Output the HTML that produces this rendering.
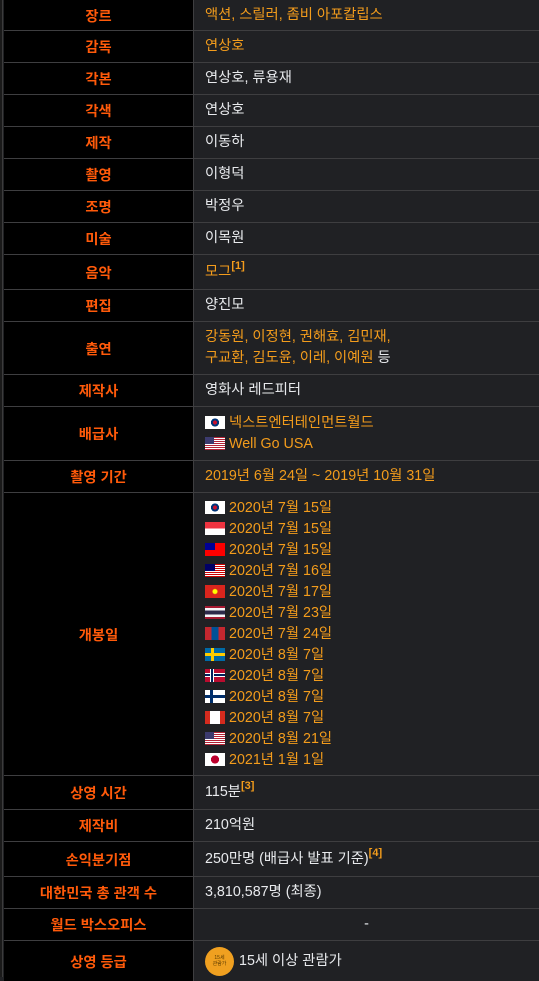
<!DOCTYPE html>
<html><head><meta charset="utf-8">
<style>
*{margin:0;padding:0;box-sizing:border-box}
body{width:539px;height:977px;background:#202124;position:relative;overflow:hidden;font-family:"Liberation Sans","Noto Sans CJK KR","NanumGothic",sans-serif;font-size:14.3px}
#lb{position:absolute;left:0;top:0;width:3px;height:977px;background:#1a1a1a;border-right:1px solid #3c3c3c}
.row{position:absolute;left:4px;width:535px;border-bottom:1px solid #3e3e40}
.h{position:absolute;left:0;top:0;bottom:0;width:190px;background:#000;border-right:1px solid #3e3e40;color:#ff5a0a;font-weight:bold;display:flex;align-items:center;justify-content:center}
.v{position:absolute;left:201px;top:0;bottom:0;right:0;display:flex;flex-direction:column;justify-content:center;color:#e8eaed;line-height:21px}
.o{color:#f39c1c}
sup{font-size:11px;font-weight:bold;color:#f39c1c;vertical-align:top;line-height:10px;position:relative;top:-1px}
.f{display:inline-block;width:20px;height:13px;vertical-align:-2px;margin-right:4px}
.d{display:block}
</style></head><body>
<div id="lb"></div>

<div class="row" style="top:0;height:31px"><div class="h">장르</div><div class="v o">액션, 스릴러, 좀비 아포칼립스</div></div>
<div class="row" style="top:31px;height:32px"><div class="h">감독</div><div class="v o">연상호</div></div>
<div class="row" style="top:63px;height:32px"><div class="h">각본</div><div class="v">연상호, 류용재</div></div>
<div class="row" style="top:95px;height:32px"><div class="h">각색</div><div class="v">연상호</div></div>
<div class="row" style="top:127px;height:32px"><div class="h">제작</div><div class="v">이동하</div></div>
<div class="row" style="top:159px;height:32px"><div class="h">촬영</div><div class="v">이형덕</div></div>
<div class="row" style="top:191px;height:32px"><div class="h">조명</div><div class="v">박정우</div></div>
<div class="row" style="top:223px;height:32px"><div class="h">미술</div><div class="v">이목원</div></div>
<div class="row" style="top:255px;height:35px"><div class="h">음악</div><div class="v"><span><span class="o">모그</span><sup>[1]</sup></span></div></div>
<div class="row" style="top:290px;height:32px"><div class="h">편집</div><div class="v">양진모</div></div>
<div class="row" style="top:322px;height:53px"><div class="h">출연</div><div class="v"><span class="o d">강동원, 이정현, 권해효, 김민재,</span><span class="d"><span class="o">구교환, 김도윤, 이레, 이예원</span> 등</span></div></div>
<div class="row" style="top:375px;height:32px"><div class="h">제작사</div><div class="v">영화사 레드피터</div></div>
<div class="row" style="top:407px;height:54px"><div class="h">배급사</div><div class="v o">
<span class="d"><i class="f" style="background:radial-gradient(circle,#c8102e 0 2px,#003478 2px 4px,#fff 4px)"></i>넥스트엔터테인먼트월드</span>
<span class="d"><i class="f" style="background:linear-gradient(#3c3b6e,#3c3b6e) 0 0/9px 7px no-repeat,repeating-linear-gradient(#b22234 0 1px,#fff 1px 2px)"></i>Well Go USA</span></div></div>
<div class="row" style="top:461px;height:32px"><div class="h">촬영 기간</div><div class="v o">2019년 6월 24일 ~ 2019년 10월 31일</div></div>
<div class="row" style="top:493px;height:283px"><div class="h">개봉일</div><div class="v o">
<span class="d"><i class="f" style="background:radial-gradient(circle,#c8102e 0 2px,#003478 2px 4px,#fff 4px)"></i>2020년 7월 15일</span>
<span class="d"><i class="f" style="background:linear-gradient(#ef3340 50%,#fff 50%)"></i>2020년 7월 15일</span>
<span class="d"><i class="f" style="background:linear-gradient(#000095,#000095) 0 0/10px 7px no-repeat,#fe0000"></i>2020년 7월 15일</span>
<span class="d"><i class="f" style="background:linear-gradient(#010066,#010066) 0 0/10px 7px no-repeat,repeating-linear-gradient(#cc0001 0 1px,#fff 1px 2px)"></i>2020년 7월 16일</span>
<span class="d"><i class="f" style="background:radial-gradient(circle,#ff0 0 2px,#da251d 3px)"></i>2020년 7월 17일</span>
<span class="d"><i class="f" style="background:linear-gradient(#a51931 15%,#f4f5f8 15% 33%,#2d2a4a 33% 67%,#f4f5f8 67% 85%,#a51931 85%)"></i>2020년 7월 23일</span>
<span class="d"><i class="f" style="background:linear-gradient(90deg,#c4272f 33%,#015197 33% 67%,#c4272f 67%)"></i>2020년 7월 24일</span>
<span class="d"><i class="f" style="background:linear-gradient(90deg,transparent 6px,#fecc00 6px 9px,transparent 9px),linear-gradient(transparent 5px,#fecc00 5px 8px,transparent 8px),#006aa7"></i>2020년 8월 7일</span>
<span class="d"><i class="f" style="background:linear-gradient(90deg,transparent 5px,#fff 5px 6px,#00205b 6px 8px,#fff 8px 9px,transparent 9px),linear-gradient(transparent 4px,#fff 4px 5px,#00205b 5px 7px,#fff 7px 8px,transparent 8px),#ba0c2f"></i>2020년 8월 7일</span>
<span class="d"><i class="f" style="background:linear-gradient(90deg,transparent 5px,#002f6c 5px 8px,transparent 8px),linear-gradient(transparent 5px,#002f6c 5px 8px,transparent 8px),#fff"></i>2020년 8월 7일</span>
<span class="d"><i class="f" style="background:linear-gradient(90deg,#d52b1e 5px,#fff 5px 15px,#d52b1e 15px)"></i>2020년 8월 7일</span>
<span class="d"><i class="f" style="background:linear-gradient(#3c3b6e,#3c3b6e) 0 0/9px 7px no-repeat,repeating-linear-gradient(#b22234 0 1px,#fff 1px 2px)"></i>2020년 8월 21일</span>
<span class="d"><i class="f" style="background:radial-gradient(circle,#bc002d 0 4px,#fff 4px)"></i>2021년 1월 1일</span>
</div></div>
<div class="row" style="top:776px;height:34px"><div class="h">상영 시간</div><div class="v"><span>115분<sup>[3]</sup></span></div></div>
<div class="row" style="top:810px;height:32px"><div class="h">제작비</div><div class="v">210억원</div></div>
<div class="row" style="top:842px;height:35px"><div class="h">손익분기점</div><div class="v"><span>250만명 (배급사 발표 기준)<sup>[4]</sup></span></div></div>
<div class="row" style="top:877px;height:32px"><div class="h">대한민국 총 관객 수</div><div class="v">3,810,587명 (최종)</div></div>
<div class="row" style="top:909px;height:32px"><div class="h">월드 박스오피스</div><div class="v" style="align-items:center;left:190px">-</div></div>
<div class="row" style="top:941px;height:40px;border-bottom:none"><div class="h">상영 등급</div><div class="v"><span style="display:flex;align-items:center"><i style="display:inline-flex;width:29px;height:29px;border-radius:50%;background:#f0a020;margin-right:5px;font-style:normal;font-size:5px;color:#5a3a00;align-items:center;justify-content:center;text-align:center;line-height:6px">15세<br>관람가</i>15세 이상 관람가</span></div></div>
</body></html>
